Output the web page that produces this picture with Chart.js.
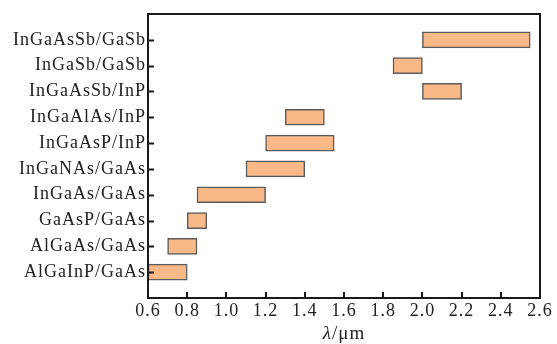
<!DOCTYPE html>
<html>
<head>
<meta charset="utf-8">
<script src="https://cdn.jsdelivr.net/npm/chart.js@4/dist/chart.umd.min.js"></script>
<style>
  html, body { margin: 0; padding: 0; background: #fff; }
  #wrap { width: 557px; height: 344px; }
</style>
</head>
<body>
<div id="wrap"><canvas id="bandChart"></canvas></div>
<script>
// material systems, top to bottom
const materials = [
    'InGaAsSb/GaSb', 'InGaSb/GaSb', 'InGaAsSb/InP', 'InGaAlAs/InP', 'InGaAsP/InP',
    'InGaNAs/GaAs', 'InGaAs/GaAs', 'GaAsP/GaAs', 'AlGaAs/GaAs', 'AlGaInP/GaAs'
];
// wavelength range in um
const lambdaStart = [2.0, 1.85, 2.0, 1.3, 1.2, 1.1, 0.85, 0.8, 0.7, 0.6];
const lambdaEnd = [2.55, 2.0, 2.2, 1.5, 1.55, 1.4, 1.2, 0.9, 0.85, 0.8];
const xTicks = [0.6, 0.8, 1.0, 1.2, 1.4, 1.6, 1.8, 2.0, 2.2, 2.4, 2.6];

const serif = '"Liberation Serif", "DejaVu Serif", serif';

// blank slot above and below so the rows sit one step in from the frame
const labels = [''].concat(materials, ['']);
const ranges = [null].concat(materials.map((m, i) => [lambdaStart[i], lambdaEnd[i]]), [null]);

// the reference type is set a little loose
const spacing = {
    id: 'spacing',
    beforeUpdate(chart) { chart.ctx.letterSpacing = '1px'; },
    beforeDraw(chart) { chart.ctx.letterSpacing = '1px'; }
};

const frameAndTicks = {
    id: 'frameAndTicks',
    afterDatasetsDraw(chart) {
        const { ctx, chartArea: a, scales: { x, y } } = chart;
        ctx.save();
        ctx.strokeStyle = '#1a1a1a';
        ctx.lineWidth = 2;
        ctx.beginPath();
        // inner ticks on y
        for (let i = 1; i < labels.length - 1; i++) {
            const py = Math.round(y.getPixelForTick(i)) + 0.5;
            ctx.moveTo(a.left, py);
            ctx.lineTo(a.left + 6, py);
        }
        // inner ticks on x
        xTicks.forEach(v => {
            const px = Math.round(x.getPixelForValue(v));
            ctx.moveTo(px, a.bottom);
            ctx.lineTo(px, a.bottom - 6);
        });
        ctx.stroke();
        ctx.strokeRect(a.left, a.top, a.right - a.left, a.bottom - a.top);

        // axis title: italic lambda, upright unit
        const mid = (a.left + a.right) / 2;
        const ty = a.bottom + 41;
        const fontI = 'italic 19px ' + serif;
        const fontN = '19px ' + serif;
        ctx.fillStyle = '#222';
        ctx.textBaseline = 'alphabetic';
        ctx.textAlign = 'left';
        ctx.font = fontI;
        const w1 = ctx.measureText('λ').width;
        ctx.font = fontN;
        const w2 = ctx.measureText('/μm').width;
        const sx = mid - (w1 + w2) / 2;
        ctx.font = fontI;
        ctx.fillText('λ', sx, ty);
        ctx.font = fontN;
        ctx.fillText('/μm', sx + w1, ty);
        ctx.restore();
    }
};

new Chart(document.getElementById('bandChart'), {
    type: 'bar',
    data: {
        labels: labels,
        datasets: [{
            data: ranges,
            backgroundColor: '#f9b887',
            borderColor: '#5b5b5b',
            borderWidth: 1.5,
            borderSkipped: false,
            barThickness: 16
        }]
    },
    options: {
        indexAxis: 'y',
        responsive: true,
        maintainAspectRatio: false,
        animation: false,
        layout: { padding: { top: 14, right: 17, left: 0, bottom: 0 } },
        plugins: {
            legend: { display: false },
            tooltip: { enabled: false }
        },
        scales: {
            x: {
                type: 'linear',
                min: 0.6,
                max: 2.6,
                afterBuildTicks: s => { s.ticks = xTicks.map(v => ({ value: v })); },
                afterFit: s => { s.height = 46; },
                grid: { display: false, drawTicks: false },
                border: { display: false },
                ticks: {
                    color: '#222',
                    padding: 2,
                    font: { family: serif, size: 18 },
                    callback: v => v.toFixed(1)
                }
            },
            y: {
                type: 'category',
                offset: false,
                afterFit: s => { s.width = 148; },
                grid: { display: false, drawTicks: false },
                border: { display: false },
                ticks: {
                    color: '#222',
                    padding: 2,
                    autoSkip: false,
                    font: { family: serif, size: 18 }
                }
            }
        }
    },
    plugins: [spacing, frameAndTicks]
});
</script>
</body>
</html>
